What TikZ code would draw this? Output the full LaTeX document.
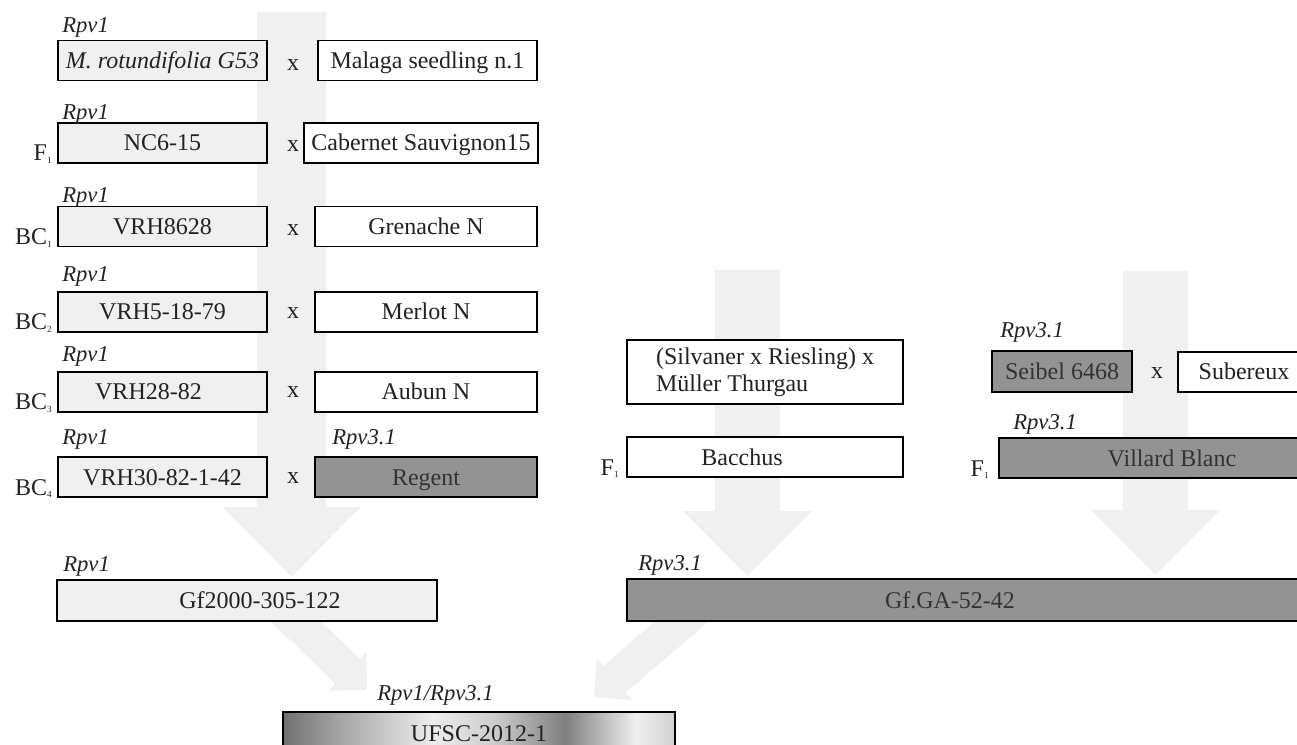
\documentclass[tikz,border=0pt]{standalone}
\usepackage{fontspec}
\setmainfont{Liberation Serif}
\usetikzlibrary{calc}
\definecolor{arrowgray}{HTML}{F0F0F0}
\definecolor{lightfill}{HTML}{F0F0F0}
\definecolor{darkfill}{HTML}{939393}
\definecolor{inkgray}{HTML}{222222}
\pgfdeclarehorizontalshading{ufscshade}{100bp}{color(0bp)=(black!56); color(25bp)=(black!56);
  color(32bp)=(black!36); color(44bp)=(black!7); color(52bp)=(black!20); color(61bp)=(black!50);
  color(70bp)=(black!6); color(75bp)=(black!18); color(100bp)=(black!18)}
\tikzset{
  boxbase/.style={draw=black, line width=1pt, inner sep=0pt, minimum height=30pt,
    font=\fontsize{18}{20.25}\selectfont, text=inkgray},
  box/.style={boxbase, text height=12pt, text depth=0pt},
  litebox/.style={box, fill=lightfill},
  whitebox/.style={box, fill=white},
  darkbox/.style={box, fill=darkfill, text=black!80},
  gene/.style={anchor=base west, inner sep=0pt, font=\fontsize{17}{20}\selectfont\itshape, text=inkgray},
  cross/.style={inner sep=0pt, font=\fontsize{18}{20}\selectfont, text=inkgray},
  gen/.style={anchor=base east, inner sep=0pt, font=\fontsize{18}{20}\selectfont, text=inkgray},
}
% generation index, set small on the baseline
\newcommand{\gsub}[1]{\raisebox{-2pt}{\fontsize{7}{8}\selectfont#1}}
% block arrow: start, tip, half shaft, half head, head length
\newcommand{\fatarrow}[5]{%
  \coordinate (fa-base) at ($(#2)!#5!(#1)$);
  \fill[arrowgray] ($(#1)!#3!90:(#2)$) -- ($(fa-base)!#3!90:(#2)$)
    -- ($(fa-base)!#4!90:(#2)$) -- (#2)
    -- ($(fa-base)!#4!-90:(#2)$) -- ($(fa-base)!#3!-90:(#2)$)
    -- ($(#1)!#3!-90:(#2)$) -- cycle;
}
\begin{document}
\begin{tikzpicture}[x=0.75pt, y=-0.75pt]
\useasboundingbox (0,0) rectangle (1297,745);
\clip (0,0) rectangle (1297,745);

% background arrows
\coordinate (srcL) at (291.5,12);   \coordinate (tipL) at (291.5,577);
\coordinate (srcM) at (747.5,270);  \coordinate (tipM) at (747.5,576);
\coordinate (srcR) at (1155.5,271); \coordinate (tipR) at (1155.5,575);
\coordinate (srcDL) at (280,606);   \coordinate (tipDL) at (367,690);
\coordinate (srcDR) at (702,604);   \coordinate (tipDR) at (594,697);
\fatarrow{srcL}{tipL}{25.9pt}{51.75pt}{52.5pt}
\fatarrow{srcM}{tipM}{24.4pt}{48.4pt}{48.75pt}
\fatarrow{srcR}{tipR}{24.4pt}{48.4pt}{48.75pt}
\fatarrow{srcDL}{tipDL}{13.1pt}{20.25pt}{20.25pt}
\fatarrow{srcDR}{tipDR}{13.1pt}{20.25pt}{20.25pt}

% Rpv1 line
\node[litebox, minimum width=156.75pt] (rot) at (162.5,60.5) {\itshape M. rotundifolia G53};
\node[litebox, minimum width=156.75pt] (nc) at (162.5,143) {NC6-15};
\node[litebox, minimum width=156.75pt] (vrhA) at (162.5,226.5) {VRH8628};
\node[litebox, minimum width=156.75pt] (vrhB) at (162.5,312) {VRH5-18-79};
\node[litebox, minimum width=156.75pt] (vrhC) at (162.5,392) {VRH28-82\kern21pt};
\node[litebox, minimum width=156.75pt] (vrhD) at (162.5,477) {VRH30-82-1-42};

\node[whitebox, minimum width=164.25pt] (mal) at (427.5,60.5) {Malaga seedling n.1};
\node[whitebox, minimum width=175.5pt] (cab) at (421,143) {Cabernet Sauvignon15};
\node[whitebox, minimum width=166.5pt] (gre) at (426,226.5) {Grenache N};
\node[whitebox, minimum width=166.5pt] (mer) at (426,312) {Merlot N};
\node[whitebox, minimum width=166.5pt] (aub) at (426,392) {Aubun N};
\node[darkbox, minimum width=166.5pt] (reg) at (426,477) {Regent};

\foreach \yy [count=\i] in {64.5,146,229.5,313,392,478}
  \node[cross] (xL\i) at (293,\yy) {x};
\foreach \yy [count=\i] in {33,120,203,282,362,445}
  \node[gene] (rpvL\i) at (62,\yy) {Rpv1};
\node[gene] (rpvReg) at (332,445) {Rpv3.1};

\node[gen] (genF) at (52,161) {F\gsub{1}};
\foreach \yy [count=\i] in {245,330,410,495}
  \node[gen] (genBC\i) at (52,\yy) {BC\gsub{\i}};

\node[litebox, minimum width=285pt, minimum height=30.75pt] (gf) at (247,600.5) {\kern19.5pt Gf2000-305-122};
\node[gene] (rpvGf) at (63,571) {Rpv1};

% Rpv3.1 line
\node[boxbase, fill=white, align=left, minimum width=207pt, minimum height=48pt] (silv) at (765,372)
  {(Silvaner x Riesling) x\\Müller Thurgau};
\node[whitebox, minimum width=207pt] (bac) at (765,457) {Bacchus\kern34.5pt};
\node[gen] (genFbac) at (619,475) {F\gsub{1}};

\node[darkbox, minimum width=105pt, minimum height=30.75pt] (sei) at (1062,371.5) {Seibel 6468};
\node[cross] (xR) at (1157,373) {x};
\node[whitebox, minimum width=99pt] (sub) at (1244,372) {Subereux};
\node[gene] (rpvSei) at (1000,338) {Rpv3.1};
\node[darkbox, minimum width=233.25pt] (vil) at (1154.5,458) {\kern26.25pt Villard Blanc};
\node[gene] (rpvVil) at (1013,430) {Rpv3.1};
\node[gen] (genFvil) at (989,476) {F\gsub{1}};

\node[darkbox, minimum width=512.25pt, minimum height=31.5pt] (gfga) at (968.5,600) {Gf.GA-52-42\kern27.75pt};
\node[gene] (rpvGa) at (638,570) {Rpv3.1};

% pyramided selection
\node[box, shading=ufscshade, minimum width=294pt, minimum height=31.5pt] (ufsc) at (479,733) {UFSC-2012-1};
\node[gene] (rpvU) at (377,700) {Rpv1/Rpv3.1};
\end{tikzpicture}
\end{document}
